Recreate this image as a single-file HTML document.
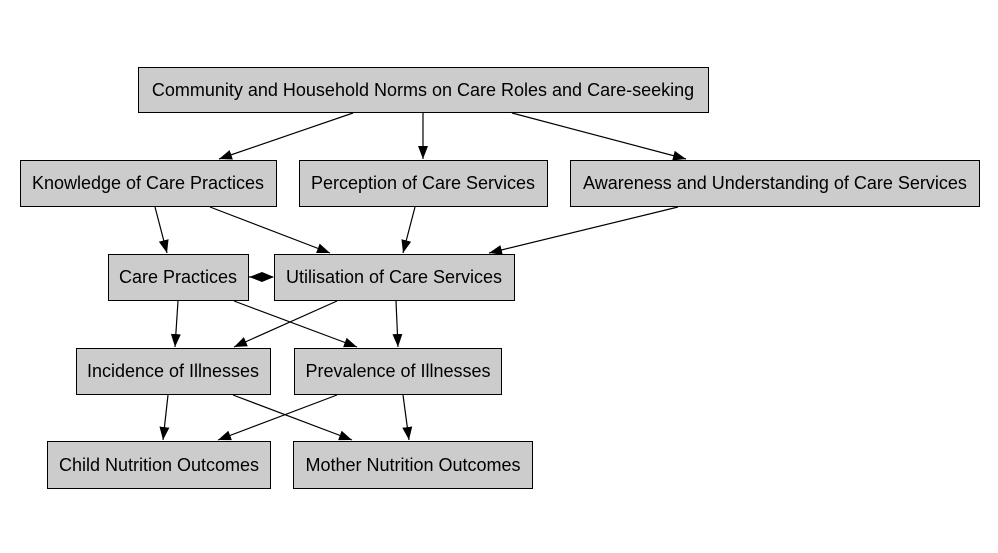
<!DOCTYPE html>
<html><head><meta charset="utf-8"><style>
html,body{margin:0;padding:0;background:#fff;}
svg{display:block}
text{font-family:"Liberation Sans",sans-serif;font-size:18px;fill:#000;text-anchor:middle;dominant-baseline:central}
rect{fill:#cccccc;stroke:#000;stroke-width:1}
line{stroke:#000;stroke-width:1.2}
</style></head><body>
<svg width="998" height="553" viewBox="0 0 998 553" xmlns="http://www.w3.org/2000/svg">
<defs><marker id="a" markerWidth="13" markerHeight="10" refX="13" refY="5" orient="auto" markerUnits="userSpaceOnUse"><path d="M0,0 L13,5 L0,10 z" fill="#000"/></marker></defs>
<g marker-end="url(#a)">
<line x1="353" y1="113" x2="219" y2="159"/>
<line x1="423" y1="113" x2="423" y2="159"/>
<line x1="512" y1="113" x2="686" y2="159"/>
<line x1="155" y1="207" x2="167" y2="253"/>
<line x1="210" y1="207" x2="330" y2="253"/>
<line x1="415" y1="207" x2="403" y2="253"/>
<line x1="678" y1="207" x2="489" y2="253"/>
<line x1="178" y1="301" x2="175" y2="347"/>
<line x1="234" y1="301" x2="357" y2="347"/>
<line x1="337" y1="301" x2="234" y2="347"/>
<line x1="396" y1="301" x2="398" y2="347"/>
<line x1="168" y1="395" x2="163" y2="440"/>
<line x1="233" y1="395" x2="352" y2="440"/>
<line x1="337" y1="395" x2="218" y2="440"/>
<line x1="403" y1="395" x2="409" y2="440"/>
</g>
<line x1="249" y1="277" x2="273" y2="277"/>
<polygon points="249,277 262,272 274,277 262,282" fill="#000"/>
<rect x="138.5" y="67.5" width="570" height="45"/><text x="423" y="90">Community and Household Norms on Care Roles and Care-seeking</text>
<rect x="20.5" y="160.5" width="256" height="46"/><text x="148" y="183">Knowledge of Care Practices</text>
<rect x="299.5" y="160.5" width="248" height="46"/><text x="423" y="183">Perception of Care Services</text>
<rect x="570.5" y="160.5" width="409" height="46"/><text x="775" y="183">Awareness and Understanding of Care Services</text>
<rect x="108.5" y="254.5" width="140" height="46"/><text x="178" y="277">Care Practices</text>
<rect x="274.5" y="254.5" width="240" height="46"/><text x="394" y="277">Utilisation of Care Services</text>
<rect x="76.5" y="348.5" width="194" height="46"/><text x="173" y="371">Incidence of Illnesses</text>
<rect x="294.5" y="348.5" width="207" height="46"/><text x="398" y="371">Prevalence of Illnesses</text>
<rect x="47.5" y="441.5" width="223" height="47"/><text x="159" y="465">Child Nutrition Outcomes</text>
<rect x="293.5" y="441.5" width="239" height="47"/><text x="413" y="465">Mother Nutrition Outcomes</text>
</svg>
</body></html>
